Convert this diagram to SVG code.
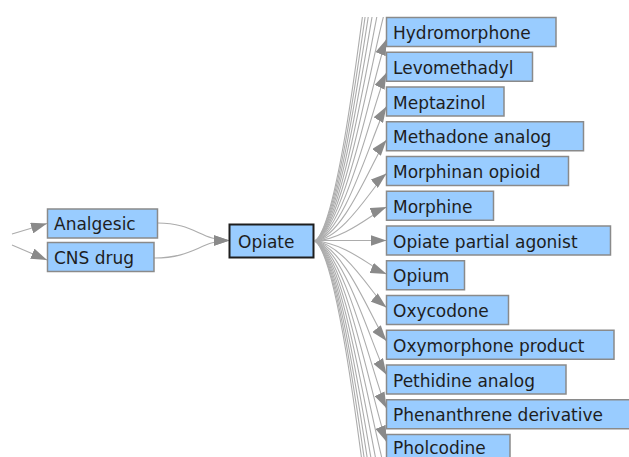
<svg xmlns="http://www.w3.org/2000/svg" width="629" height="457" viewBox="0 0 629 457">
<defs>
<style>
.n rect{fill:#99ccff;stroke:#8a8a8a;stroke-width:1.5}
.n text{font-family:"DejaVu Sans",sans-serif;font-size:17px;fill:#1e1e1e}
#opiate rect{stroke:#1e1e1e;stroke-width:2}
.e path{fill:none;stroke:#acacac;stroke-width:1.1}
.e .a{marker-end:url(#arr)}
</style>
<marker id="arr" markerUnits="userSpaceOnUse" markerWidth="16" markerHeight="11" viewBox="0 0 16 11" refX="16" refY="5.5" orient="auto">
<path d="M0,0 L16,5.5 L0,11 z" fill="#8a8a8a"/>
</marker>
<clipPath id="topclip"><rect x="0" y="17" width="629" height="440"/></clipPath>
</defs>
<rect width="629" height="457" fill="#ffffff"/>
<g id="connectors" class="e">
<path class="a" d="M12,234 L47,223.5"/>
<path class="a" d="M12,245 L47,260"/>
<path class="a" d="M157.5,223 C195,223 200,240.5 229.5,240.5"/>
<path class="a" d="M154,258 C195,258 200,240.5 229.5,240.5"/>
<path class="a" d="M315,241 C345,230.55 374,70.65 386.5,39.3"/>
<path class="a" d="M315,241 C345,232.29 374,98.99 386.5,72.85"/>
<path class="a" d="M315,241 C345,234.02 374,127.31 386.5,106.38"/>
<path class="a" d="M315,241 C345,235.76 374,155.63 386.5,139.92"/>
<path class="a" d="M315,241 C345,237.5 374,183.95 386.5,173.45"/>
<path class="a" d="M315,241 C345,239.24 374,212.27 386.5,206.98"/>
<path class="a" d="M315,240.5 L386.5,240.5"/>
<path class="a" d="M315,241 C345,242.71 374,268.91 386.5,274.05"/>
<path class="a" d="M315,241 C345,244.45 374,297.24 386.5,307.59"/>
<path class="a" d="M315,241 C345,246.19 374,325.56 386.5,341.12"/>
<path class="a" d="M315,241 C345,247.93 374,353.87 386.5,374.65"/>
<path class="a" d="M315,241 C345,249.66 374,382.2 386.5,408.19"/>
<path class="a" d="M315,241 C345,251.4 374,410.52 386.5,441.72"/>
<g clip-path="url(#topclip)">
<path d="M315,241 C345,228.81 374,42.34 386.5,5.78"/>
<path d="M315,241 C345,227.07 374,14.03 386.5,-27.75"/>
<path d="M315,241 C345,225.34 374,-14.3 386.5,-61.29"/>
<path d="M315,241 C345,223.6 374,-42.62 386.5,-94.82"/>
<path d="M315,241 C345,221.86 374,-70.94 386.5,-128.35"/>
<path d="M315,241 C345,220.12 374,-99.26 386.5,-161.89"/>
</g>
<path d="M315,241 C345,253.14 374,438.84 386.5,475.25"/>
<path d="M315,241 C345,254.88 374,467.16 386.5,508.79"/>
<path d="M315,241 C345,256.61 374,495.48 386.5,542.32"/>
<path d="M315,241 C345,258.35 374,523.8 386.5,575.85"/>
<path d="M315,241 C345,260.09 374,552.13 386.5,609.39"/>
<path d="M315,241 C345,261.83 374,580.44 386.5,642.92"/>
</g>
<g id="analgesic" class="n"><rect x="47.5" y="209" width="110" height="29"/><text x="54" y="230">Analgesic</text></g>
<g id="cns-drug" class="n"><rect x="47.5" y="242.5" width="106.5" height="29"/><text x="54" y="264">CNS drug</text></g>
<g id="opiate" class="n"><rect x="229.5" y="224.5" width="84" height="33"/><text x="238" y="248">Opiate</text></g>
<g id="hydromorphone" class="n"><rect x="386.5" y="17.5" width="169.5" height="29"/><text x="393" y="39">Hydromorphone</text></g>
<g id="levomethadyl" class="n"><rect x="386.5" y="52.25" width="146" height="29"/><text x="393" y="73.75">Levomethadyl</text></g>
<g id="meptazinol" class="n"><rect x="386.5" y="87" width="117.5" height="29"/><text x="393" y="108.5">Meptazinol</text></g>
<g id="methadone-analog" class="n"><rect x="386.5" y="121.75" width="197" height="29"/><text x="393" y="143.25">Methadone analog</text></g>
<g id="morphinan-opioid" class="n"><rect x="386.5" y="156.5" width="182" height="29"/><text x="393" y="178">Morphinan opioid</text></g>
<g id="morphine" class="n"><rect x="386.5" y="191.25" width="107" height="29"/><text x="393" y="212.75">Morphine</text></g>
<g id="opiate-partial-agonist" class="n"><rect x="386.5" y="226" width="224" height="29"/><text x="393" y="247.5">Opiate partial agonist</text></g>
<g id="opium" class="n"><rect x="386.5" y="260.75" width="78" height="29"/><text x="393" y="282.25">Opium</text></g>
<g id="oxycodone" class="n"><rect x="386.5" y="295.5" width="122" height="29"/><text x="393" y="317">Oxycodone</text></g>
<g id="oxymorphone-product" class="n"><rect x="386.5" y="330.25" width="227.5" height="29"/><text x="393" y="351.75">Oxymorphone product</text></g>
<g id="pethidine-analog" class="n"><rect x="386.5" y="365" width="179.5" height="29"/><text x="393" y="386.5">Pethidine analog</text></g>
<g id="phenanthrene-derivative" class="n"><rect x="386.5" y="399.75" width="260" height="29"/><text x="393" y="421.25">Phenanthrene derivative</text></g>
<g id="pholcodine" class="n"><rect x="386.5" y="434.5" width="123.5" height="29"/><text x="393" y="453.5">Pholcodine</text></g>
</svg>
